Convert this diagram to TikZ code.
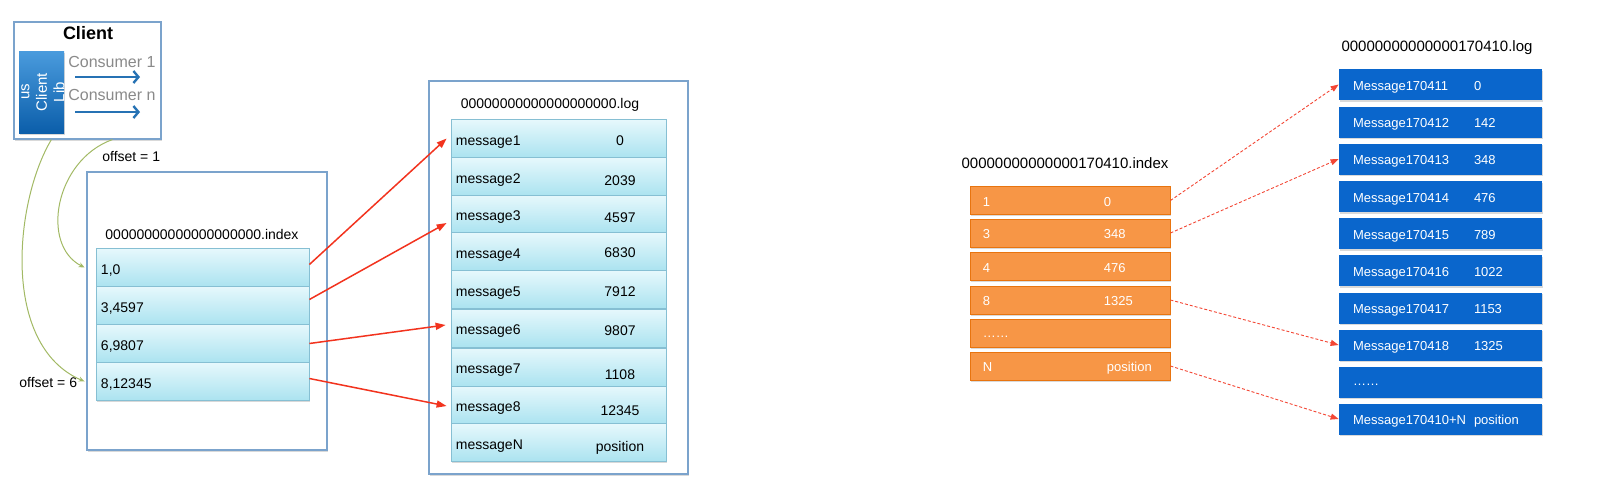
\documentclass[tikz,border=0pt]{standalone}
\usepackage{fontspec}
\setmainfont{Liberation Sans}
\usetikzlibrary{arrows.meta,shadows}

\definecolor{frameblue}{HTML}{7BA3CC}
\definecolor{celltop}{HTML}{E6F8FC}
\definecolor{cellbot}{HTML}{ABE3F0}
\definecolor{cellline}{HTML}{86BFD3}
\definecolor{libtop}{HTML}{4A9BDD}
\definecolor{libbot}{HTML}{0B5EAA}
\definecolor{consblue}{HTML}{2672B4}
\definecolor{consgray}{HTML}{8A8A8A}
\definecolor{curvegreen}{HTML}{A2B964}
\definecolor{linkred}{HTML}{F2331E}
\definecolor{segorange}{HTML}{F79646}
\definecolor{segline}{HTML}{E8740F}
\definecolor{segblue}{HTML}{0A66CC}

\tikzset{every picture/.style={line width=0.75pt}}
\tikzset{
  lbl/.style={inner sep=0pt, font=\fontsize{14}{16}\selectfont},
  ttl/.style={inner sep=0pt, font=\fontsize{15}{17}\selectfont},
  wlbl/.style={inner sep=0pt, text=white, font=\fontsize{13}{15}\selectfont},
  celltxt/.style={lbl, anchor=mid west, yshift=-4pt},
  cellnum/.style={lbl, anchor=mid, yshift=-4pt},
  segtxt/.style={wlbl, anchor=mid west, yshift=-3pt},
  softshadow/.style={drop shadow={shadow xshift=1.2pt,shadow yshift=-1.8pt,opacity=.3}},
  frame/.style={draw=frameblue, line width=1.2pt, fill=white, softshadow},
  cyancell/.style={draw=cellline, line width=0.8pt, top color=celltop, bottom color=cellbot, minimum height=38pt, inner sep=0pt, softshadow},
  idxcell/.style={cyancell, minimum width=213pt},
  logcell/.style={cyancell, minimum width=215pt},
  orangecell/.style={draw=segline, line width=0.9pt, fill=segorange, minimum width=200pt, minimum height=28pt, inner sep=0pt, softshadow},
  bluecell/.style={fill=segblue, minimum width=203pt, minimum height=31pt, inner sep=0pt, softshadow},
  consarrow/.style={draw=consblue, line width=2.4pt, -{Straight Barb[length=5pt,width=12pt]}},
  redlink/.style={draw=linkred, line width=1.5pt, -{Triangle[length=10pt,width=7pt]}},
  dashlink/.style={draw=linkred!90!white, line width=0.9pt, dash pattern=on 3pt off 2pt, -{Triangle[length=8pt,width=6pt]}},
  offsetcurve/.style={draw=curvegreen, line width=1pt, -{Stealth[length=6pt,width=5pt]}},
}

\begin{document}
\begin{tikzpicture}[x=1pt,y=-1pt]
	\useasboundingbox (0,0) rectangle (1622,493);

	% Client
	\node[frame, minimum width=147pt, minimum height=117pt] (client) at (87.5,80.5) {};
	\node[inner sep=0pt, font=\bfseries\fontsize{18}{20}\selectfont] (clienttitle) at (88,33) {Client};
	\node[top color=libtop, bottom color=libbot, minimum width=45pt, minimum height=82pt, inner sep=0pt, softshadow] (lib) at (41.5,92) {};
	\node[inner sep=0pt, rotate=90, text=white, align=center, font=\fontsize{15}{17.5}\selectfont] (libtext) at (43,92) {us\\Client\\Lib};
	\node[inner sep=0pt, anchor=west, text=consgray, font=\fontsize{16}{18}\selectfont] (cons1) at (68,62) {Consumer 1};
	\node[inner sep=0pt, anchor=west, text=consgray, font=\fontsize{16}{18}\selectfont] (consn) at (68,95) {Consumer n};
	\coordinate (c1s) at (75,77);
	\coordinate (c1e) at (140,77);
	\coordinate (cns) at (75,112);
	\coordinate (cne) at (140,112);
	\draw[consarrow] (c1s) -- (c1e);
	\draw[consarrow] (cns) -- (cne);

	% Index file
	\node[frame, minimum width=240pt, minimum height=278pt] (idxframe) at (207,311) {};
	\node[lbl] (idxtitle) at (202,234) {00000000000000000000.index};
	\node[idxcell] (i1) at (202.5,267.5) {};
	\node[celltxt] at ([xshift=5pt]i1.west) {1,0};
	\node[idxcell] (i2) at (202.5,305.5) {};
	\node[celltxt] at ([xshift=5pt]i2.west) {3,4597};
	\node[idxcell] (i3) at (202.5,343.5) {};
	\node[celltxt] at ([xshift=5pt]i3.west) {6,9807};
	\node[idxcell] (i4) at (202.5,381.5) {};
	\node[celltxt] at ([xshift=5pt]i4.west) {8,12345};

	% Log file
	\node[frame, minimum width=259pt, minimum height=393pt] (logframe) at (558.5,277.5) {};
	\node[lbl] (logtitle) at (550,105) {00000000000000000000.log};
	\node[logcell] (m1) at (558.5,138.5) {};
	\node[celltxt] at ([xshift=5pt]m1.west) {message1};
	\node[cellnum] at (620,139) {0};
	\node[logcell] (m2) at (558.5,176.5) {};
	\node[celltxt] at ([xshift=5pt]m2.west) {message2};
	\node[cellnum] at (620,179) {2039};
	\node[logcell] (m3) at (558.5,214) {};
	\node[celltxt] at ([xshift=5pt]m3.west) {message3};
	\node[cellnum] at (620,216) {4597};
	\node[logcell] (m4) at (558.5,251.5) {};
	\node[celltxt] at ([xshift=5pt]m4.west) {message4};
	\node[cellnum] at (620,251) {6830};
	\node[logcell] (m5) at (558.5,289.5) {};
	\node[celltxt] at ([xshift=5pt]m5.west) {message5};
	\node[cellnum] at (620,290) {7912};
	\node[logcell] (m6) at (558.5,328) {};
	\node[celltxt] at ([xshift=5pt]m6.west) {message6};
	\node[cellnum] at (620,329) {9807};
	\node[logcell] (m7) at (558.5,367) {};
	\node[celltxt] at ([xshift=5pt]m7.west) {message7};
	\node[cellnum] at (620,373) {1108};
	\node[logcell] (m8) at (558.5,405) {};
	\node[celltxt] at ([xshift=5pt]m8.west) {message8};
	\node[cellnum] at (620,409) {12345};
	\node[logcell] (mN) at (558.5,442.5) {};
	\node[celltxt] at ([xshift=5pt]mN.west) {messageN};
	\node[cellnum] at (620,445) {position};

	% Offsets from the client
	\node[lbl, anchor=west] (off1) at (102,156) {offset = 1};
	\node[lbl, anchor=west] (off6) at (19,382) {offset = 6};
	\draw[offsetcurve] ([xshift=99pt]client.south west) .. controls (55,160) and (40,245) .. ([xshift=-11pt]i1.west);
	\draw[offsetcurve] ([xshift=38pt]client.south west) .. controls (15,200) and (0,345) .. ([xshift=-11pt]i4.west);

	% Index to log
	\draw[redlink] ([yshift=3pt]i1.east) -- ([xshift=-4pt]m1.west);
	\draw[redlink] ([yshift=6pt]i2.east) -- ([xshift=-4pt,yshift=-9pt]m3.west);
	\draw[redlink] (i3.east) -- ([xshift=-5pt,yshift=3pt]m6.west);
	\draw[redlink] ([yshift=3pt]i4.east) -- ([xshift=-4pt,yshift=-1pt]m8.west);

	% Segment index
	\node[ttl] (segidxtitle) at (1065,163) {00000000000000170410.index};
	\node[orangecell] (o1) at (1070,200.5) {};
	\node[segtxt] at ([xshift=13pt]o1.west) {1};
	\node[segtxt] at ([xshift=134pt]o1.west) {0};
	\node[orangecell] (o2) at (1070,233) {};
	\node[segtxt] at ([xshift=13pt]o2.west) {3};
	\node[segtxt] at ([xshift=134pt]o2.west) {348};
	\node[orangecell] (o3) at (1070,266.5) {};
	\node[segtxt] at ([xshift=13pt]o3.west) {4};
	\node[segtxt] at ([xshift=134pt]o3.west) {476};
	\node[orangecell] (o4) at (1070,300) {};
	\node[segtxt] at ([xshift=13pt]o4.west) {8};
	\node[segtxt] at ([xshift=134pt]o4.west) {1325};
	\node[orangecell] (o5) at (1070,333.5) {};
	\node[wlbl, anchor=west] at ([xshift=13pt,yshift=-3pt]o5.west) {……};
	\node[orangecell] (o6) at (1070,366) {};
	\node[segtxt] at ([xshift=13pt]o6.west) {N};
	\node[segtxt] at ([xshift=137pt]o6.west) {position};

	% Segment log
	\node[ttl] (seglogtitle) at (1437,48) {00000000000000170410.log};
	\node[bluecell] (b1) at (1440.5,84.5) {};
	\node[segtxt] at ([xshift=14pt]b1.west) {Message170411};
	\node[segtxt] at ([xshift=135pt]b1.west) {0};
	\node[bluecell] (b2) at (1440.5,122) {};
	\node[segtxt] at ([xshift=14pt]b2.west) {Message170412};
	\node[segtxt] at ([xshift=135pt]b2.west) {142};
	\node[bluecell] (b3) at (1440.5,159) {};
	\node[segtxt] at ([xshift=14pt]b3.west) {Message170413};
	\node[segtxt] at ([xshift=135pt]b3.west) {348};
	\node[bluecell] (b4) at (1440.5,196.5) {};
	\node[segtxt] at ([xshift=14pt]b4.west) {Message170414};
	\node[segtxt] at ([xshift=135pt]b4.west) {476};
	\node[bluecell] (b5) at (1440.5,233.5) {};
	\node[segtxt] at ([xshift=14pt]b5.west) {Message170415};
	\node[segtxt] at ([xshift=135pt]b5.west) {789};
	\node[bluecell] (b6) at (1440.5,270.5) {};
	\node[segtxt] at ([xshift=14pt]b6.west) {Message170416};
	\node[segtxt] at ([xshift=135pt]b6.west) {1022};
	\node[bluecell] (b7) at (1440.5,308) {};
	\node[segtxt] at ([xshift=14pt]b7.west) {Message170417};
	\node[segtxt] at ([xshift=135pt]b7.west) {1153};
	\node[bluecell] (b8) at (1440.5,345) {};
	\node[segtxt] at ([xshift=14pt]b8.west) {Message170418};
	\node[segtxt] at ([xshift=135pt]b8.west) {1325};
	\node[bluecell] (b9) at (1440.5,382) {};
	\node[wlbl, anchor=west] at ([xshift=14pt,yshift=-3pt]b9.west) {……};
	\node[bluecell] (b10) at (1440.5,419) {};
	\node[segtxt] at ([xshift=14pt]b10.west) {Message170410+N};
	\node[segtxt] at ([xshift=135pt]b10.west) {position};

	% Index to log, sparse
	\draw[dashlink] (o1.east) -- (b1.west);
	\draw[dashlink] (o2.east) -- (b3.west);
	\draw[dashlink] (o4.east) -- (b8.west);
	\draw[dashlink] (o6.east) -- (b10.west);

\end{tikzpicture}
\end{document}
